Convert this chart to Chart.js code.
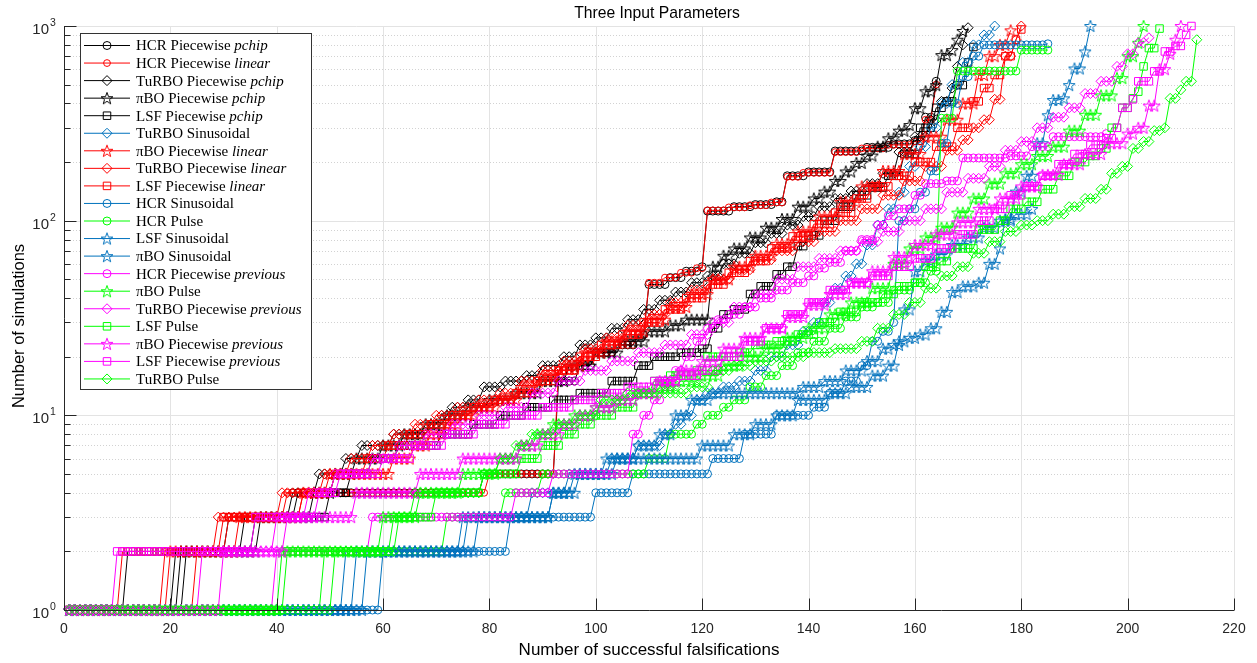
<!DOCTYPE html>
<html>
<head>
<meta charset="utf-8">
<title>Three Input Parameters</title>
<script src="https://cdn.jsdelivr.net/npm/chart.js@4.4.0/dist/chart.umd.min.js"></script>
<style>
  html, body { margin: 0; padding: 0; background: #fff; }
  #wrap { width: 1257px; height: 663px; }
</style>
</head>
<body>
<div id="wrap"><canvas id="myChart" width="1257" height="663"></canvas></div>
<script>
// Each run: [first falsification index, number of simulations].
// The value holds until the next step; the last step is the final falsification.
const hcrPchip = [[1,1],[21,2],[31,3],[43,4],[79,5],[93,15],[97,18],[100,21],[104,23],[108,26],[110,47],[114,51],[117,55],[120,58],[121,112],[126,118],[130,121],[134,125],[136,170],[140,178],[145,228],[151,238],[156,248],[160,258],[162,340],[164,520]];
const hcrLinear = [[1,1],[19,2],[31,3],[42,4],[80,5],[93,17],[97,19],[100,21],[104,23],[108,26],[110,48],[113,51],[116,54],[119,57],[121,113],[125,117],[129,120],[133,124],[136,168],[139,176],[145,225],[150,235],[155,245],[160,255],[162,330],[164,500]];
const turboPchip = [[1,1],[23,2],[36,3],[44,4],[48,5],[53,6],[56,7],[62,8],[69,9],[71,10],[73,11],[76,12],[79,14],[83,15],[87,16],[90,18],[94,20],[97,23],[100,25],[103,28],[106,31],[109,35],[112,39],[115,43],[118,48],[121,52],[124,60],[127,68],[130,77],[133,86],[136,95],[139,105],[142,118],[145,130],[148,142],[151,155],[154,175],[157,225],[160,270],[163,330],[165,410],[167,480],[168,620],[169,800],[170,980]];
const piboPchip = [[1,1],[22,2],[37,3],[47,4],[51,5],[55,6],[60,7],[64,8],[68,9],[72,10],[76,11],[80,12],[85,13],[90,15],[95,18],[100,21],[105,24],[110,27],[114,29],[117,31],[122,58],[124,66],[126,72],[129,82],[132,92],[135,102],[138,118],[141,130],[143,141],[145,160],[147,179],[149,198],[151,216],[153,240],[155,265],[157,290],[159,310],[160,378],[162,462],[164,497],[165,709],[167,752],[168,850],[169,943]];
const lsfPchip = [[1,1],[12,2],[34,3],[50,4],[54,5],[58,6],[63,7],[71,8],[77,9],[82,10],[87,11],[92,12],[97,13],[103,15],[108,18],[111,20],[116,21],[120,22],[122,28],[124,33],[126,35],[129,42],[131,46],[134,53],[136,58],[138,74],[140,84],[143,100],[146,118],[149,135],[152,148],[155,170],[158,220],[161,300],[164,380],[166,410],[168,497],[170,650],[171,780]];
const turboSin = [[1,1],[53,2],[76,3],[88,4],[95,5],[103,6],[108,7],[113,8],[115,9],[117,10],[119,12],[121,13],[124,14],[127,15],[130,17],[133,20],[136,23],[139,27],[141,30],[143,38],[145,45],[147,52],[149,60],[151,75],[153,95],[155,115],[157,140],[159,190],[161,240],[163,300],[165,400],[167,500],[169,650],[171,800],[173,900],[175,1000]];
const piboLinear = [[1,1],[20,2],[33,3],[45,4],[50,5],[62,6],[66,7],[69,8],[72,9],[75,10],[78,11],[82,12],[86,14],[90,16],[94,18],[98,21],[102,24],[106,27],[110,31],[114,36],[118,42],[122,50],[126,58],[130,66],[134,76],[138,88],[142,105],[146,125],[150,150],[154,180],[158,220],[162,270],[166,330],[169,400],[172,560],[174,700],[176,800],[178,950]];
const turboLinear = [[1,1],[25,2],[29,3],[41,4],[49,5],[54,6],[58,7],[62,8],[66,9],[70,10],[74,11],[78,12],[82,13],[86,15],[90,17],[94,19],[98,22],[102,25],[106,29],[110,33],[114,38],[118,44],[122,50],[126,56],[130,63],[134,70],[138,78],[142,88],[146,100],[150,115],[154,135],[158,160],[162,190],[166,230],[169,260],[171,300],[173,330],[175,420],[177,700],[179,850],[180,1000]];
const lsfLinear = [[1,1],[11,2],[30,3],[45,4],[51,5],[57,6],[61,7],[65,8],[69,9],[73,10],[77,11],[81,12],[85,13],[89,15],[93,17],[97,20],[101,23],[105,26],[109,30],[113,35],[117,40],[121,47],[125,54],[129,62],[133,72],[137,83],[141,96],[145,110],[149,130],[152,150],[156,170],[160,200],[164,240],[168,300],[171,410],[173,480],[175,560],[177,700],[179,850],[180,960]];
const hcrSin = [[1,1],[60,2],[84,3],[100,4],[107,5],[122,6],[128,8],[134,10],[141,11],[144,13],[147,15],[150,18],[152,24],[154,27],[156,30],[157,100],[159,115],[161,140],[163,180],[165,250],[167,400],[169,550],[171,700],[173,800],[185,810]];
const hcrPulse = [[1,1],[49,2],[72,3],[83,4],[90,5],[110,6],[114,8],[119,9],[121,10],[124,11],[126,12],[129,14],[132,16],[135,18],[138,21],[141,24],[144,28],[147,32],[150,36],[153,38],[156,44],[160,48],[163,55],[165,336],[168,587],[180,752],[185,752]];
const lsfSin = [[1,1],[55,2],[75,3],[92,4],[96,5],[102,6],[108,7],[112,8],[115,10],[118,12],[122,13],[139,14],[143,15],[147,17],[151,19],[154,22],[156,23],[158,35],[160,55],[162,62],[164,67],[167,75],[170,82],[173,92],[176,100],[179,108],[182,115]];
const piboSin = [[1,1],[57,2],[78,3],[92,4],[97,5],[104,6],[120,7],[126,8],[130,9],[134,10],[138,12],[144,13],[148,14],[152,16],[155,18],[157,24],[159,25],[161,26],[163,28],[165,34],[167,43],[169,46],[172,48],[174,60],[176,72],[177,102],[179,141],[181,170],[183,250],[185,348],[186,417],[188,425],[189,497],[190,605],[192,740],[193,1000]];
const hcrPrev = [[1,1],[40,2],[58,3],[85,4],[92,5],[107,8],[109,10],[111,12],[113,14],[115,17],[117,20],[119,24],[121,28],[123,31],[125,33],[128,36],[131,40],[134,44],[137,48],[140,52],[142,57],[144,61],[147,70],[150,80],[153,95],[155,106],[157,115],[160,135],[162,155],[166,160],[169,210],[178,215],[182,240],[186,270],[196,280]];
const piboPulse = [[1,1],[41,2],[60,3],[67,4],[75,5],[82,6],[86,7],[89,8],[92,9],[96,10],[100,11],[104,12],[108,13],[112,14],[116,15],[120,16],[124,18],[128,20],[132,22],[136,25],[140,28],[144,33],[148,38],[152,45],[156,60],[159,72],[162,82],[165,92],[168,110],[171,130],[174,155],[177,175],[180,195],[183,215],[186,240],[189,290],[192,350],[195,440],[198,540],[200,700],[202,820],[203,1000]];
const turboPrev = [[1,1],[26,2],[40,3],[46,4],[51,5],[58,6],[63,7],[68,8],[73,9],[78,10],[83,11],[88,13],[93,15],[98,17],[103,19],[108,21],[113,23],[118,26],[122,30],[126,36],[130,42],[134,50],[138,58],[142,64],[146,70],[150,78],[154,88],[158,100],[162,115],[166,140],[170,165],[174,190],[177,230],[180,255],[183,300],[186,340],[189,380],[192,450],[195,520],[198,620],[200,720],[202,820],[204,870]];
const lsfPulse = [[1,1],[42,2],[62,3],[70,4],[79,5],[86,6],[90,7],[94,8],[97,9],[100,10],[104,11],[108,13],[111,15],[114,16],[119,17],[121,20],[127,21],[130,23],[134,24],[138,26],[142,30],[146,34],[150,38],[154,42],[157,46],[160,48],[162,58],[165,62],[167,72],[172,90],[176,100],[178,115],[181,125],[184,145],[187,170],[190,200],[193,215],[195,235],[197,300],[199,380],[201,425],[202,460],[203,620],[204,770],[206,970]];
const piboPrev = [[1,1],[30,2],[42,3],[55,4],[67,5],[75,6],[86,7],[90,8],[94,9],[97,10],[100,11],[104,12],[108,13],[112,15],[116,17],[120,19],[124,22],[128,25],[132,28],[136,32],[140,37],[144,42],[148,48],[152,55],[156,65],[160,75],[164,85],[168,98],[172,115],[176,130],[180,150],[184,172],[188,195],[192,220],[196,250],[200,280],[202,300],[204,390],[206,600],[208,720],[209,850],[210,1000]];
const lsfPrev = [[1,1],[10,2],[36,3],[48,4],[52,5],[60,6],[66,7],[72,8],[78,9],[84,10],[90,11],[96,12],[101,13],[106,14],[111,15],[116,16],[120,17],[124,20],[128,24],[132,28],[136,33],[140,38],[144,44],[148,48],[152,52],[156,58],[160,64],[164,72],[168,85],[172,100],[175,115],[178,135],[181,150],[184,170],[187,195],[190,220],[193,245],[196,265],[198,300],[199,380],[201,420],[202,520],[205,585],[207,740],[209,790],[211,900],[212,1000]];
const turboPulse = [[1,1],[51,2],[63,3],[66,4],[79,5],[82,6],[85,7],[88,8],[93,9],[97,10],[101,12],[106,13],[118,14],[122,17],[126,18],[130,19],[134,20],[140,21],[145,22],[150,24],[153,28],[156,33],[159,38],[162,45],[165,52],[168,58],[171,68],[174,78],[177,88],[180,95],[183,100],[186,108],[189,118],[192,130],[195,145],[197,175],[199,190],[201,235],[203,255],[205,290],[207,300],[208,425],[210,470],[211,520],[213,850]];

const xTicks = [0, 20, 40, 60, 80, 100, 120, 140, 160, 180, 200, 220];
const yTicks = [1, 10, 100, 1000];
const yTickExp = ['0', '1', '2', '3'];
const titleText = 'Three Input Parameters';
const xTitle = 'Number of successful falsifications';
const yTitle = 'Number of simulations';

const BLACK = '#000000', RED = '#ff0000', BLUE = '#0072bd', GREEN = '#00ff00', MAGENTA = '#ff00ff';

// legend order = drawing order
const series = [
  { name: 'HCR Piecewise ',   em: 'pchip',    steps: hcrPchip,    color: BLACK,   marker: 'circle' },
  { name: 'HCR Piecewise ',   em: 'linear',   steps: hcrLinear,   color: RED,     marker: 'circle', size: 3.4 },
  { name: 'TuRBO Piecewise ', em: 'pchip',    steps: turboPchip,  color: BLACK,   marker: 'diamond' },
  { name: '\u03c0BO Piecewise ', em: 'pchip', steps: piboPchip,   color: BLACK,   marker: 'star' },
  { name: 'LSF Piecewise ',   em: 'pchip',    steps: lsfPchip,    color: BLACK,   marker: 'square' },
  { name: 'TuRBO Sinusoidal', em: '',         steps: turboSin,    color: BLUE,    marker: 'diamond' },
  { name: '\u03c0BO Piecewise ', em: 'linear', steps: piboLinear, color: RED,     marker: 'star' },
  { name: 'TuRBO Piecewise ', em: 'linear',   steps: turboLinear, color: RED,     marker: 'diamond' },
  { name: 'LSF Piecewise ',   em: 'linear',   steps: lsfLinear,   color: RED,     marker: 'square' },
  { name: 'HCR Sinusoidal',   em: '',         steps: hcrSin,      color: BLUE,    marker: 'circle' },
  { name: 'HCR Pulse',        em: '',         steps: hcrPulse,    color: GREEN,   marker: 'circle' },
  { name: 'LSF Sinusoidal',   em: '',         steps: lsfSin,      color: BLUE,    marker: 'star' },
  { name: '\u03c0BO Sinusoidal', em: '',      steps: piboSin,     color: BLUE,    marker: 'star' },
  { name: 'HCR Piecewise ',   em: 'previous', steps: hcrPrev,     color: MAGENTA, marker: 'circle' },
  { name: '\u03c0BO Pulse',   em: '',         steps: piboPulse,   color: GREEN,   marker: 'star' },
  { name: 'TuRBO Piecewise ', em: 'previous', steps: turboPrev,   color: MAGENTA, marker: 'diamond' },
  { name: 'LSF Pulse',        em: '',         steps: lsfPulse,    color: GREEN,   marker: 'square' },
  { name: '\u03c0BO Piecewise ', em: 'previous', steps: piboPrev, color: MAGENTA, marker: 'star' },
  { name: 'LSF Piecewise ',   em: 'previous', steps: lsfPrev,     color: MAGENTA, marker: 'square' },
  { name: 'TuRBO Pulse',      em: '',         steps: turboPulse,  color: GREEN,   marker: 'diamond' }
];

// one point per falsification index, holding each step value
function expand(steps) {
  const pts = [];
  const last = steps[steps.length - 1][0];
  let k = 0;
  for (let x = 1; x <= last; x++) {
    while (k + 1 < steps.length && steps[k + 1][0] <= x) k++;
    pts.push({ x: x, y: steps[k][1] });
  }
  return pts;
}

// pentagram marker, one bitmap per colour
const starImg = {};
function makeStar(color) {
  const c = document.createElement('canvas');
  c.width = 16; c.height = 16;
  const g = c.getContext('2d');
  g.strokeStyle = color;
  g.lineWidth = 1;
  g.beginPath();
  for (let i = 0; i < 10; i++) {
    const r = i % 2 === 0 ? 6.3 : 2.6;
    const a = -Math.PI / 2 + i * Math.PI / 5;
    const px = 8 + r * Math.cos(a), py = 8.6 + r * Math.sin(a);
    if (i === 0) g.moveTo(px, py); else g.lineTo(px, py);
  }
  g.closePath();
  g.stroke();
  return c;
}
[BLACK, RED, BLUE, GREEN, MAGENTA].forEach(c => { starImg[c] = makeStar(c); });

const styleMap = { circle: 'circle', square: 'rect', diamond: 'rectRot' };
const radiusMap = { circle: 4, square: 5.3, diamond: 5, star: 5 };

const datasets = series.map((s, i) => ({
  label: s.name + s.em,
  data: expand(s.steps),
  borderColor: s.color,
  borderWidth: 1,
  pointStyle: s.marker === 'star' ? starImg[s.color] : styleMap[s.marker],
  pointRadius: s.size || radiusMap[s.marker],
  pointBorderColor: s.color,
  pointBackgroundColor: 'rgba(0,0,0,0)',
  pointBorderWidth: 1,
  fill: false,
  tension: 0,
  clip: 10,
  order: -i
}));

function drawMarker(ctx, s, x, y) {
  ctx.save();
  ctx.strokeStyle = s.color;
  ctx.lineWidth = 1;
  if (s.marker === 'star') {
    ctx.drawImage(starImg[s.color], x - 8, y - 8);
  } else {
    ctx.beginPath();
    if (s.marker === 'circle') ctx.arc(x, y, s.size || 4, 0, Math.PI * 2);
    if (s.marker === 'square') ctx.rect(x - 3.75, y - 3.75, 7.5, 7.5);
    if (s.marker === 'diamond') {
      ctx.moveTo(x, y - 5); ctx.lineTo(x + 5, y);
      ctx.lineTo(x, y + 5); ctx.lineTo(x - 5, y);
      ctx.closePath();
    }
    ctx.stroke();
  }
  ctx.restore();
}

const SANS = '"Liberation Sans", Arial, sans-serif';
const SERIF = '"Liberation Serif", "Times New Roman", serif';

const frame = {
  id: 'frame',
  beforeDatasetsDraw(chart) {
    const { ctx, chartArea: a, scales: { x, y } } = chart;
    ctx.save();
    ctx.lineWidth = 1;
    // dotted minor grid on the log axis
    ctx.strokeStyle = '#d2d2d2';
    ctx.setLineDash([1, 2]);
    [1, 10, 100].forEach(d => {
      for (let m = 2; m <= 9; m++) {
        const py = Math.round(y.getPixelForValue(m * d)) + 0.5;
        ctx.beginPath(); ctx.moveTo(a.left, py); ctx.lineTo(a.right, py); ctx.stroke();
      }
    });
    ctx.setLineDash([]);
    ctx.strokeStyle = '#e3e3e3';
    yTicks.slice(1).forEach(v => {
      const py = Math.round(y.getPixelForValue(v)) + 0.5;
      ctx.beginPath(); ctx.moveTo(a.left, py); ctx.lineTo(a.right, py); ctx.stroke();
    });
    xTicks.slice(1).forEach(v => {
      const px = Math.round(x.getPixelForValue(v)) + 0.5;
      ctx.beginPath(); ctx.moveTo(px, a.top); ctx.lineTo(px, a.bottom); ctx.stroke();
    });
    ctx.restore();
  },
  afterDatasetsDraw(chart) {
    const { ctx, chartArea: a, scales: { x, y } } = chart;
    ctx.save();
    // axes and inward ticks
    ctx.strokeStyle = '#262626';
    ctx.lineWidth = 1;
    const left = Math.round(a.left) + 0.5, bottom = Math.round(a.bottom) + 0.5;
    ctx.beginPath();
    ctx.moveTo(left, a.top); ctx.lineTo(left, bottom); ctx.lineTo(a.right, bottom);
    xTicks.forEach(v => {
      const px = Math.round(x.getPixelForValue(v)) + 0.5;
      ctx.moveTo(px, bottom); ctx.lineTo(px, bottom - 12);
    });
    [1, 10, 100].forEach(d => {
      for (let m = 1; m <= 9; m++) {
        const py = Math.round(y.getPixelForValue(m * d)) + 0.5;
        ctx.moveTo(left, py); ctx.lineTo(left + (m === 1 ? 12 : 6), py);
      }
    });
    const topPy = Math.round(y.getPixelForValue(1000)) + 0.5;
    ctx.moveTo(left, topPy); ctx.lineTo(left + 12, topPy);
    ctx.stroke();

    // tick labels
    ctx.fillStyle = '#262626';
    ctx.font = '14px ' + SANS;
    ctx.textAlign = 'center';
    ctx.textBaseline = 'top';
    xTicks.forEach(v => ctx.fillText(String(v), x.getPixelForValue(v), a.bottom + 12));
    yTicks.forEach((v, i) => {
      const py = y.getPixelForValue(v);
      ctx.textBaseline = 'alphabetic';
      ctx.font = '15px ' + SANS;
      ctx.textAlign = 'right';
      ctx.fillText('10', a.left - 15, py + 8);
      ctx.font = '10.5px ' + SANS;
      ctx.textAlign = 'left';
      ctx.fillText(yTickExp[i], a.left - 14, py);
    });

    // titles
    ctx.fillStyle = '#000';
    ctx.font = '15.7px ' + SANS;
    ctx.textAlign = 'center';
    ctx.textBaseline = 'middle';
    ctx.fillText(titleText, (a.left + a.right) / 2 + 8, 14);
    ctx.font = '17px ' + SANS;
    ctx.fillText(xTitle, (a.left + a.right) / 2, 650);
    ctx.save();
    ctx.translate(19, (a.top + a.bottom) / 2 + 8);
    ctx.rotate(-Math.PI / 2);
    ctx.font = '16.5px ' + SANS;
    ctx.fillText(yTitle, 0, 0);
    ctx.restore();

    // legend
    const bx = 80.5, by = 33.5, bw = 231, bh = 356;
    ctx.fillStyle = '#fff';
    ctx.fillRect(bx, by, bw, bh);
    ctx.strokeStyle = '#333';
    ctx.strokeRect(bx, by, bw, bh);
    series.forEach((s, i) => {
      const cy = 45.5 + i * 17.55;
      ctx.strokeStyle = s.color;
      ctx.lineWidth = 1;
      ctx.beginPath(); ctx.moveTo(84, cy); ctx.lineTo(130, cy); ctx.stroke();
      drawMarker(ctx, s, 107, cy);
      ctx.fillStyle = '#000';
      ctx.textAlign = 'left';
      ctx.textBaseline = 'middle';
      ctx.font = '15px ' + SERIF;
      ctx.fillText(s.name, 136, cy + 1);
      if (s.em) {
        const w = ctx.measureText(s.name).width;
        ctx.font = 'italic 15px ' + SERIF;
        ctx.fillText(s.em, 136 + w, cy + 1);
      }
    });
    ctx.restore();
  }
};

const ctx = document.getElementById('myChart').getContext('2d');
new Chart(ctx, {
  type: 'line',
  data: { datasets: datasets },
  options: {
    responsive: false,
    animation: false,
    events: [],
    layout: { padding: { top: 26, right: 23, left: 0, bottom: 0 } },
    plugins: { legend: { display: false }, tooltip: { enabled: false }, title: { display: false } },
    scales: {
      x: {
        type: 'linear', min: 0, max: 220,
        grid: { display: false }, border: { display: false },
        ticks: { display: false },
        afterFit(scale) { scale.height = 53; }
      },
      y: {
        type: 'logarithmic', min: 1, max: 1000,
        grid: { display: false }, border: { display: false },
        ticks: { display: false },
        afterFit(scale) { scale.width = 64; }
      }
    }
  },
  plugins: [frame]
});
</script>
</body>
</html>
